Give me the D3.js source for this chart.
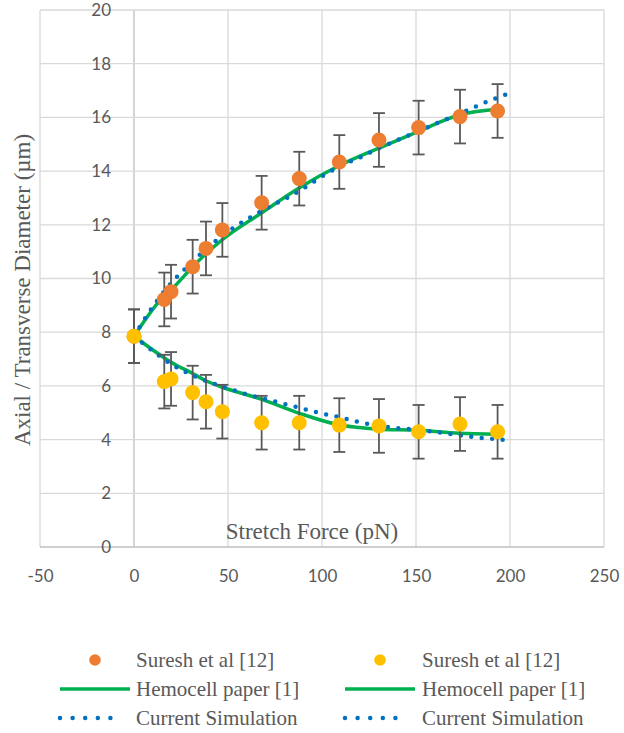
<!DOCTYPE html>
<html>
<head>
<meta charset="utf-8">
<script src="https://cdn.jsdelivr.net/npm/d3@7"></script>
<style>
  html, body { margin: 0; padding: 0; background: #fff; }
  svg { display: block; }
</style>
</head>
<body>
<svg id="chart" width="624" height="733"></svg>
<script>
// ---------- DATA ----------
const expForce = [0, 16.1, 19.7, 31.2, 38.3, 47.0, 67.9, 87.9, 109.2, 130.3, 151.4, 173.4, 193.4];
const expAxial = [7.85, 9.22, 9.51, 10.44, 11.12, 11.81, 12.82, 13.72, 14.34, 15.16, 15.62, 16.03, 16.24];
const expTransverse = [7.85, 6.16, 6.26, 5.75, 5.41, 5.04, 4.63, 4.63, 4.54, 4.51, 4.29, 4.58, 4.29];
const expError = 1;

const hemoForce = [0, 16, 20, 31, 38, 47, 68, 88, 109, 130, 151, 173, 193];
const hemoAxial = [7.85, 9.35, 9.6, 10.42, 10.9, 11.45, 12.45, 13.38, 14.2, 14.85, 15.47, 16.09, 16.3];
const hemoTransverse = [7.85, 7.05, 6.87, 6.47, 6.2, 5.95, 5.5, 4.98, 4.55, 4.39, 4.35, 4.24, 4.2];

const simForce = [0, 10, 20, 30, 40, 50, 60, 70, 80, 90, 100, 110, 120, 130, 140, 150, 160, 170, 180, 190, 200];
const simAxial = [7.85, 8.95, 9.85, 10.55, 11.2, 11.75, 12.2, 12.6, 12.95, 13.35, 13.8, 14.2, 14.5, 14.85, 15.15, 15.45, 15.75, 16.05, 16.35, 16.65, 16.9];
const simTransverse = [7.85, 7.3, 6.8, 6.43, 6.14, 5.91, 5.69, 5.51, 5.33, 5.15, 4.97, 4.82, 4.65, 4.52, 4.43, 4.37, 4.29, 4.19, 4.1, 4.03, 3.98];

const xTicks = [-50, 0, 50, 100, 150, 200, 250];
const yTicks = [0, 2, 4, 6, 8, 10, 12, 14, 16, 18, 20];

const legendLabels = ["Suresh et al [12]", "Hemocell paper [1]", "Current Simulation"];
const xTitle = "Stretch Force (pN)";
const yTitle = "Axial / Transverse Diameter (\u00b5m)";

// ---------- STYLE ----------
const C_ORANGE = "#ED7D31", C_YELLOW = "#FFC000", C_GREEN = "#00B050", C_BLUE = "#0070C0";
const C_GRID = "#d9d9d9", C_AXIS = "#bfbfbf", C_TEXT = "#595959", C_ERR = "#595959";
const SANS = "Lato, 'Open Sans', sans-serif";
const SERIF = "'Liberation Serif', 'Times New Roman', serif";

const svg = d3.select("#chart");
const x = d3.scaleLinear().domain([-50, 250]).range([40, 604]);
const y = d3.scaleLinear().domain([0, 20]).range([547, 10]);

// gridlines
const grid = svg.append("g");
grid.selectAll("line.v").data(xTicks).enter().append("line")
  .attr("x1", d => x(d)).attr("x2", d => x(d))
  .attr("y1", y(0)).attr("y2", y(20))
  .attr("stroke", d => d === 0 ? C_AXIS : C_GRID).attr("stroke-width", 1.3);
grid.selectAll("line.h").data(yTicks).enter().append("line")
  .attr("x1", x(-50)).attr("x2", x(250))
  .attr("y1", d => y(d)).attr("y2", d => y(d))
  .attr("stroke", d => d === 0 ? C_AXIS : C_GRID).attr("stroke-width", 1.3);

// y axis tick labels (next to the x=0 axis)
const yAxis = d3.axisLeft(y).tickValues(yTicks).tickSize(0).tickPadding(23).tickFormat(d => String(d));
const gy = svg.append("g").attr("transform", `translate(${x(0)},0)`).call(yAxis);
gy.select(".domain").remove();
gy.selectAll("text").attr("font-family", SANS).attr("font-size", 17).attr("fill", C_TEXT);

// x axis tick labels
const xAxis = d3.axisBottom(x).tickValues(xTicks).tickSize(0).tickPadding(23).tickFormat(d => String(d));
const gx = svg.append("g").attr("transform", `translate(0,${y(0)})`).call(xAxis);
gx.select(".domain").remove();
gx.selectAll("text").attr("font-family", SANS).attr("font-size", 17).attr("fill", C_TEXT);

// axis titles
svg.append("text").text(xTitle)
  .attr("x", 312).attr("y", 539).attr("text-anchor", "middle")
  .attr("font-family", SERIF).attr("font-size", 23).attr("fill", C_TEXT);
svg.append("text").text(yTitle)
  .attr("transform", "translate(30,290) rotate(-90)").attr("text-anchor", "middle")
  .attr("font-family", SERIF).attr("font-size", 23).attr("fill", C_TEXT);

// lines
const hemoLine = d3.line().x(d => x(d[0])).y(d => y(d[1])).curve(d3.curveMonotoneX);
const simLine = d3.line().x(d => x(d[0])).y(d => y(d[1])).curve(d3.curveMonotoneX);

[hemoAxial, hemoTransverse].forEach(vals => {
  svg.append("path").datum(hemoForce.map((f, i) => [f, vals[i]]))
    .attr("d", hemoLine).attr("fill", "none")
    .attr("stroke", C_GREEN).attr("stroke-width", 3.5).attr("stroke-linejoin", "round");
});
[simAxial, simTransverse].forEach(vals => {
  svg.append("path").datum(simForce.map((f, i) => [f, vals[i]]))
    .attr("d", simLine).attr("fill", "none")
    .attr("stroke", C_BLUE).attr("stroke-width", 4.5)
    .attr("stroke-linecap", "round").attr("stroke-dasharray", "0 10.5");
});

// error bars + markers
function drawExp(vals) {
  const g = svg.append("g");
  const pts = expForce.map((f, i) => ({ f, v: vals[i] }));
  const eb = g.selectAll("g.eb").data(pts).enter().append("g")
    .attr("stroke", C_ERR).attr("stroke-width", 1.8);
  eb.append("line").attr("x1", d => x(d.f)).attr("x2", d => x(d.f))
    .attr("y1", d => y(d.v - expError)).attr("y2", d => y(d.v + expError));
  eb.append("line").attr("x1", d => x(d.f) - 6).attr("x2", d => x(d.f) + 6)
    .attr("y1", d => y(d.v - expError)).attr("y2", d => y(d.v - expError));
  eb.append("line").attr("x1", d => x(d.f) - 6).attr("x2", d => x(d.f) + 6)
    .attr("y1", d => y(d.v + expError)).attr("y2", d => y(d.v + expError));
  return { g, pts };
}
const ax = drawExp(expAxial);
const tr = drawExp(expTransverse);
ax.g.selectAll("circle").data(ax.pts).enter().append("circle")
  .attr("cx", d => x(d.f)).attr("cy", d => y(d.v)).attr("r", 7.5).attr("fill", C_ORANGE);
tr.g.selectAll("circle").data(tr.pts).enter().append("circle")
  .attr("cx", d => x(d.f)).attr("cy", d => y(d.v)).attr("r", 7.5).attr("fill", C_YELLOW);

// legend
const rows = [660, 689, 718];
const cols = [{ x0: 60, x1: 130, tx: 136, color: C_ORANGE }, { x0: 345, x1: 415, tx: 422, color: C_YELLOW }];
cols.forEach(c => {
  const lg = svg.append("g");
  lg.append("circle").attr("cx", (c.x0 + c.x1) / 2).attr("cy", rows[0]).attr("r", 5.8).attr("fill", c.color);
  lg.append("line").attr("x1", c.x0).attr("x2", c.x1).attr("y1", rows[1]).attr("y2", rows[1])
    .attr("stroke", C_GREEN).attr("stroke-width", 3.5);
  lg.append("line").attr("x1", c.x0).attr("x2", c.x0 + 63).attr("y1", rows[2]).attr("y2", rows[2])
    .attr("stroke", C_BLUE).attr("stroke-width", 4.5).attr("stroke-linecap", "round")
    .attr("stroke-dasharray", "0 12.6");
  legendLabels.forEach((t, i) => {
    lg.append("text").text(t).attr("x", c.tx).attr("y", rows[i] + 7)
      .attr("font-family", SERIF).attr("font-size", 21).attr("fill", C_TEXT);
  });
});
</script>
</body>
</html>
